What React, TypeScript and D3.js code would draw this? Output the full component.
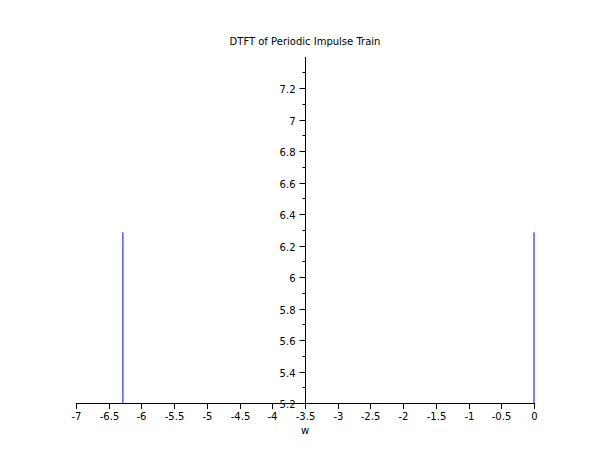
import React, { useEffect, useRef } from 'react';
import * as d3 from 'd3';

const stemX = [-2 * Math.PI, 0];
const stemY = [2 * Math.PI, 2 * Math.PI];
const xTicks = [-7, -6.5, -6, -5.5, -5, -4.5, -4, -3.5, -3, -2.5, -2, -1.5, -1, -0.5, 0];
const yTicks = [5.2, 5.4, 5.6, 5.8, 6, 6.2, 6.4, 6.6, 6.8, 7, 7.2];
const yMinor = [5.3, 5.5, 5.7, 5.9, 6.1, 6.3, 6.5, 6.7, 6.9, 7.1, 7.3];

export default function App() {
  const ref = useRef<SVGSVGElement | null>(null);

  useEffect(() => {
    const svg = d3.select(ref.current);
    svg.selectAll('*').remove();
    const font = 'DejaVu Sans, sans-serif';

    const x = d3.scaleLinear().domain([-7, 0]).range([76, 534]);
    const y = d3.scaleLinear().domain([5.2, 7.2]).range([403, 88]);

    // stems
    stemX.forEach((v, i) => {
      svg.append('line')
        .attr('x1', x(v)).attr('x2', x(v))
        .attr('y1', y(5.2)).attr('y2', y(stemY[i]))
        .attr('stroke', '#0000ff').attr('stroke-width', 1);
    });

    const g = svg.append('g').attr('font-family', font).attr('font-size', 10);

    // x axis
    g.append('line').attr('x1', x(-7)).attr('x2', x(0)).attr('y1', 403.5).attr('y2', 403.5).attr('stroke', '#000');
    xTicks.forEach(t => {
      const px = Math.round(x(t)) + 0.5;
      g.append('line').attr('x1', px).attr('x2', px).attr('y1', 403).attr('y2', 409).attr('stroke', '#000');
      g.append('text').attr('x', px).attr('y', 420).attr('text-anchor', 'middle').text(String(t));
    });
    g.append('text').attr('x', x(-3.5)).attr('y', 434).attr('text-anchor', 'middle').text('w');

    // y axis
    const ax = Math.round(x(-3.5)) + 0.5;
    g.append('line').attr('x1', ax).attr('x2', ax).attr('y1', 57).attr('y2', 403).attr('stroke', '#000');
    yTicks.forEach(t => {
      const py = Math.round(y(t)) + 0.5;
      g.append('line').attr('x1', ax - 6).attr('x2', ax).attr('y1', py).attr('y2', py).attr('stroke', '#000');
      g.append('text').attr('x', ax - 10).attr('y', py + 4).attr('text-anchor', 'end').text(String(t));
    });
    yMinor.forEach(t => {
      const py = Math.round(y(t)) + 0.5;
      g.append('line').attr('x1', ax - 3).attr('x2', ax).attr('y1', py).attr('y2', py).attr('stroke', '#000');
    });

    g.append('text').attr('x', 305).attr('y', 45).attr('text-anchor', 'middle')
      .text('DTFT of Periodic Impulse Train');
  }, []);

  return (
    <div style={{ position: 'absolute', left: 0, top: 0 }}>
      <svg ref={ref} width={610} height={460} style={{ background: '#fff', display: 'block' }} />
    </div>
  );
}
